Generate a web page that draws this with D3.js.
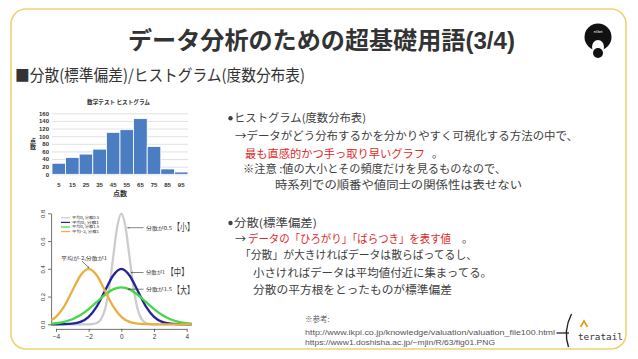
<!DOCTYPE html>
<html><head><meta charset="utf-8">
<script src="https://cdn.jsdelivr.net/npm/d3@7"></script>
<style>body{margin:0;background:#fff}svg{display:block}</style>
</head><body><svg id="c" width="638" height="359"></svg>
<script>
// ---------- data ----------
const histBins = ["5","15","25","35","45","55","65","75","85","95"];
const histCounts = [29,44,53,66,110,117,146,73,14,6];
const histYTicks = [0,20,40,60,80,100,120,140,160];

const densXTicks = [-4,-2,0,2,4];
const densYTicks = [0,0.2,0.4,0.6,0.8];

// gray: mean 0, spread 0.5
const grayX = [-4.3,-2,-1.75,-1.5,-1.25,-1,-0.75,-0.5,-0.25,0,0.25,0.5,0.75,1,1.25,1.5,1.75,2,4.3];
const grayY = [0,0.0001,0.0022,0.009,0.035,0.108,0.259,0.484,0.704,0.798,0.704,0.484,0.259,0.108,0.035,0.009,0.0022,0.0001,0];
// common x samples for the wider curves
const wideX = [-4.3,-4,-3.5,-3,-2.5,-2,-1.5,-1,-0.5,0,0.5,1,1.5,2,2.5,3,3.5,4,4.3];
const blueY = [0.00004,0.0001,0.0009,0.0044,0.0175,0.054,0.1295,0.242,0.352,0.399,0.352,0.242,0.1295,0.054,0.0175,0.0044,0.0009,0.0001,0.00004];
const greenY = [0.0043,0.0076,0.0176,0.036,0.0664,0.1093,0.1613,0.213,0.2516,0.266,0.2516,0.213,0.1613,0.1093,0.0664,0.036,0.0176,0.0076,0.0043];
const orangeY = [0.0283,0.054,0.1295,0.242,0.352,0.399,0.352,0.242,0.1295,0.054,0.0175,0.0044,0.0009,0.0001,0,0,0,0,0];

const legendLabels = ["平均0, 分散0.5","平均0, 分散1","平均0, 分散1.5","平均−2, 分散1"];
const curveColors = ["#cccccc","#23239a","#45d845","#e8b040"];

// ---------- drawing ----------
const svg = d3.select("#c");
const JP = "'Noto Sans CJK JP','Noto Sans',sans-serif";
const txt = "#404040";

// slide frame
svg.append("rect").attr("x",11).attr("y",9).attr("width",615).attr("height",340)
  .attr("rx",15).attr("fill","#fff").attr("stroke","#f0d274").attr("stroke-width",1.6);

function T(x,y,s,o){
  const t = svg.append("text").attr("x",x).attr("y",y).text(s)
    .attr("font-family",o.ff||JP).attr("font-size",o.fs||11).attr("fill",o.fill||txt);
  if(o.fw) t.attr("font-weight",o.fw);
  if(o.w) t.attr("textLength",o.w).attr("lengthAdjust","spacingAndGlyphs");
  if(o.anchor) t.attr("text-anchor",o.anchor);
  return t;
}

// title
T(128,49,"データ分析のための超基礎用語(3/4)",{fs:24,fw:"bold",fill:"#333",w:387,ff:"'Liberation Sans','Noto Sans CJK JP',sans-serif"});
T(15,81,"■分散(標準偏差)/ヒストグラム(度数分布表)",{fs:16,fill:"#333",w:290});

// avatar
const av = svg.append("g").attr("transform","translate(598,37)");
av.append("circle").attr("r",13.5).attr("fill","#111");
av.append("ellipse").attr("cx",0).attr("cy",10).attr("rx",6).attr("ry",7).attr("fill","#fff");
av.append("circle").attr("cx",0).attr("cy",16).attr("r",5).attr("fill","#111");
av.append("text").attr("x",0).attr("y",-4).attr("text-anchor","middle").attr("font-size",4)
  .attr("fill","#fff").attr("font-family","Liberation Sans").text("nGet");

// ---------- histogram ----------
const xH = d3.scaleBand().domain(histBins).range([52,188]).padding(0);
const yH = d3.scaleLinear().domain([0,160]).range([174.3,113.3]);
const gy = svg.append("g").attr("transform","translate(52,0)")
  .call(d3.axisLeft(yH).tickValues(histYTicks).tickSize(-136).tickPadding(3));
gy.select(".domain").remove();
gy.selectAll("line").attr("stroke","#d9d9d9").attr("stroke-width",0.8);
gy.selectAll("text").attr("font-size",6).attr("font-weight","bold").attr("fill","#333")
  .attr("font-family","'Liberation Sans',sans-serif");
svg.append("g").selectAll("rect").data(histCounts).join("rect")
  .attr("x",(d,i)=>xH(histBins[i])).attr("width",xH.bandwidth())
  .attr("y",d=>yH(d)).attr("height",d=>yH(0)-yH(d))
  .attr("fill","#4a7dc2").attr("stroke","#fff").attr("stroke-width",0.8);
const gx = svg.append("g").attr("transform","translate(0,174.3)")
  .call(d3.axisBottom(xH).tickSize(0).tickPadding(8));
gx.select(".domain").remove();
gx.selectAll("text").attr("font-size",6).attr("font-weight","bold").attr("fill","#333")
  .attr("font-family","'Liberation Sans',sans-serif");
T(87,104,"数学テスト ヒストグラム",{fs:5.6,fw:"bold",fill:"#333",w:63});
T(120,196,"点数",{fs:7,fw:"bold",fill:"#333",anchor:"middle"});
svg.append("text").attr("x",33).attr("y",138).text("点数")
  .attr("font-family",JP).attr("font-size",6).attr("font-weight","bold").attr("fill","#333")
  .style("writing-mode","vertical-rl").style("text-orientation","upright");

// ---------- density curves ----------
const xC = d3.scaleLinear().domain([-4,4]).range([56,186.7]);
const yC = d3.scaleLinear().domain([0,0.8]).range([324.3,213.3]);
const gcy = svg.append("g").attr("transform",`translate(${xC(-4.3)},0)`)
  .call(d3.axisLeft(yC).tickValues(densYTicks).tickFormat(d3.format(".1f")).tickSize(3).tickSizeOuter(0));
gcy.selectAll("text").attr("transform","rotate(-90)").attr("x",0).attr("y",-6)
  .attr("dy","0").attr("text-anchor","middle").attr("font-size",6).attr("fill","#333")
  .attr("font-family","'Liberation Sans',sans-serif");
gcy.selectAll("line,path").attr("stroke","#333").attr("stroke-width",0.7);
const gcx = svg.append("g").attr("transform",`translate(0,${yC(-0.033)})`)
  .call(d3.axisBottom(xC).tickValues(densXTicks).tickSize(3).tickSizeOuter(0).tickPadding(3));
gcx.selectAll("text").attr("font-size",6.5).attr("fill","#333").attr("font-family","'Liberation Sans',sans-serif");
gcx.selectAll("line,path").attr("stroke","#333").attr("stroke-width",0.7);

const line = d3.line().x(d=>xC(d[0])).y(d=>yC(d[1])).curve(d3.curveMonotoneX);
const series = [d3.zip(grayX,grayY), d3.zip(wideX,blueY), d3.zip(wideX,greenY), d3.zip(wideX,orangeY)];
svg.append("g").selectAll("path").data(series).join("path")
  .attr("d",line).attr("fill","none").attr("stroke",(d,i)=>curveColors[i]).attr("stroke-width",2.3);

// legend
const lg = svg.append("g");
legendLabels.forEach((s,i)=>{
  const y = 217.8 + i*4.6;
  lg.append("line").attr("x1",61).attr("x2",70).attr("y1",y).attr("y2",y)
    .attr("stroke",curveColors[i]).attr("stroke-width",1.2);
  lg.append("text").attr("x",72).attr("y",y+1.3).text(s).attr("font-size",3.3)
    .attr("textLength",27).attr("lengthAdjust","spacingAndGlyphs")
    .attr("fill","#333").attr("font-family",JP);
});

// annotations
const defs = svg.append("defs");
defs.append("marker").attr("id","ah").attr("viewBox","0 0 10 10").attr("refX",9).attr("refY",5)
  .attr("markerWidth",4).attr("markerHeight",4).attr("orient","auto")
  .append("path").attr("d","M0,1 L9,5 L0,9").attr("fill","none").attr("stroke","#333").attr("stroke-width",1.2);
function arrow(x1,y1,x2,y2){
  svg.append("line").attr("x1",x1).attr("y1",y1).attr("x2",x2).attr("y2",y2)
    .attr("stroke","#333").attr("stroke-width",0.6).attr("marker-end","url(#ah)");
}
T(61,259.5,"平均が-2,分散が1",{fs:5,fill:"#333",w:46});
arrow(82,261,89,268);
T(146,229.5,"分散が0.5",{fs:5,fill:"#333",w:26});
arrow(143.5,227.7,127.5,227.7);
T(173,231.3,"【小】",{fs:10,fill:"#333",w:21});
T(146,274.3,"分散が1",{fs:5,fill:"#333",w:19});
arrow(143.5,272.5,131,272.5);
T(166.5,276.3,"【中】",{fs:10,fill:"#333",w:22});
T(146,291,"分散が1.5",{fs:5,fill:"#333",w:26});
arrow(143.5,289.2,128,289.2);
T(173,293.6,"【大】",{fs:10,fill:"#333",w:21});

// ---------- right text ----------
const red = "#e02a2a";
function bullet(x,y){ svg.append("circle").attr("cx",x).attr("cy",y).attr("r",2.2).attr("fill",txt); }
bullet(230.5,118.3);
T(234,122,"ヒストグラム(度数分布表)",{w:132});
T(235,140,"→データがどう分布するかを分かりやすく可視化する方法の中で、",{w:343});
T(245,157.8,"最も直感的かつ手っ取り早いグラフ",{w:180,fill:red});
T(432,157.8,"。",{});
T(243,172.5,"※注意 :値の大小とその頻度だけを見るものなので、",{w:263});
T(275,188.5,"時系列での順番や値同士の関係性は表せない",{w:247});

bullet(230.5,223);
T(234,226.7,"分散(標準偏差)",{w:83});
T(235,243.3,"→",{fill:txt});
T(248,243.3,"データの「ひろがり」「ばらつき」を表す値",{w:203,fill:red});
T(462,243.3,"。",{});
T(240,259,"「分散」が大きければデータは散らばってるし、",{w:237});
T(253,276.7,"小さければデータは平均値付近に集まってる。",{w:239});
T(253,294,"分散の平方根をとったものが標準偏差",{w:199});

// references
const refFont = "'Liberation Sans',sans-serif";
T(305,321.5,"※参考:",{fs:7.5,fill:"#555",ff:JP});
T(305,335,"http://www.ikpi.co.jp/knowledge/valuation/valuation_file100.html",{fs:7.8,fill:"#555",ff:refFont,w:250});
T(305,345,"https://www1.doshisha.ac.jp/~mjin/R/63/fig01.PNG",{fs:7.8,fill:"#555",ff:refFont,w:190});

// teratail logo
svg.append("line").attr("x1",556.5).attr("x2",569).attr("y1",333).attr("y2",333)
  .attr("stroke","#222").attr("stroke-width",1.3);
svg.append("path").attr("d","M571.5,314 Q563,331 568.5,347").attr("fill","none")
  .attr("stroke","#222").attr("stroke-width",1.4);
svg.append("path").attr("d","M580.5,327 L584,321 L587.5,327").attr("fill","none")
  .attr("stroke","#e8a020").attr("stroke-width",1.8);
T(578,340,"teratail",{fs:9.5,fill:"#333",ff:"'DejaVu Sans Mono',monospace",w:45});
</script></body></html>
